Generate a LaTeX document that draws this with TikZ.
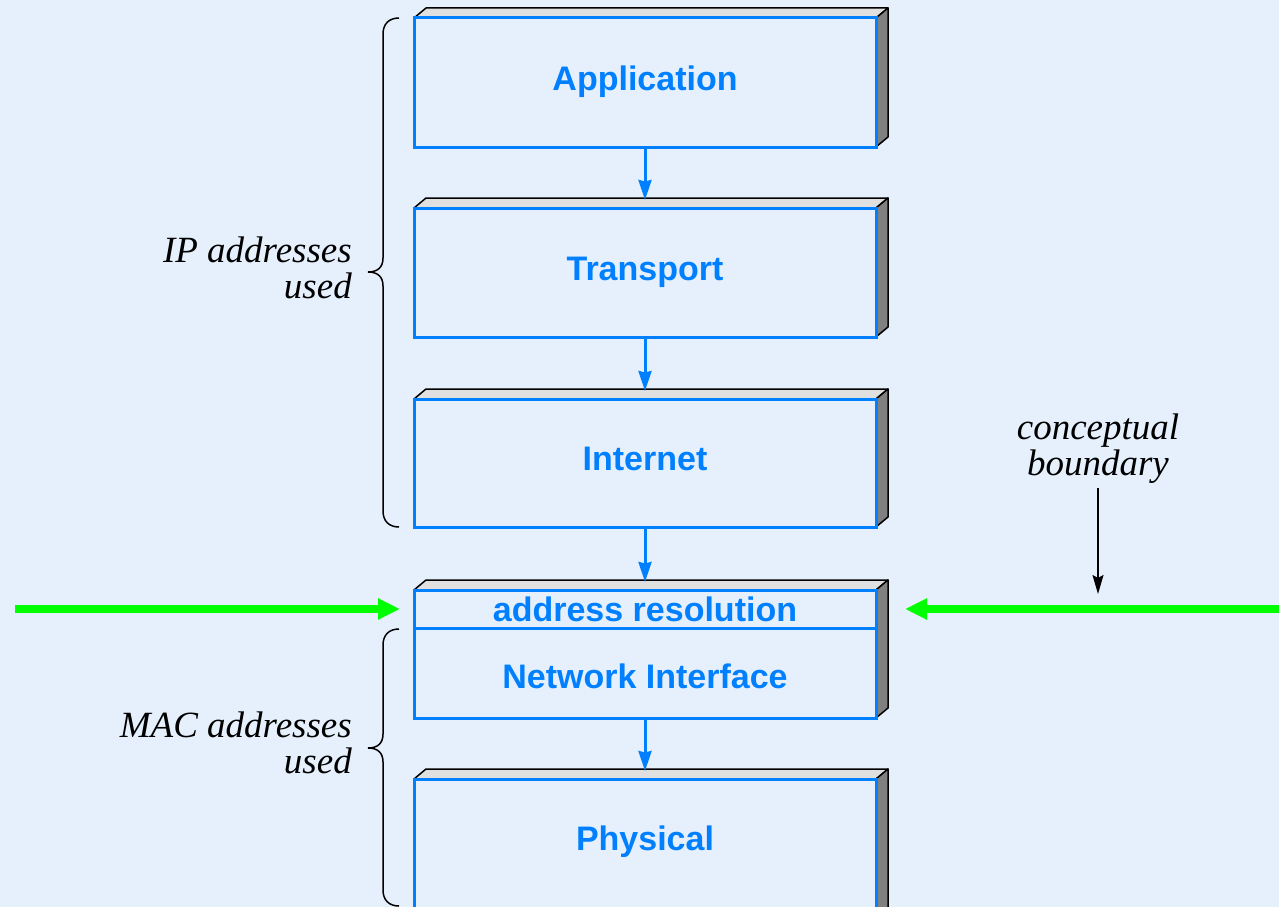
\documentclass[tikz,border=0pt]{standalone}
\usepackage{fontspec}
\setmainfont{Liberation Serif}
\setsansfont{Liberation Sans}
\usetikzlibrary{arrows.meta,backgrounds}
\definecolor{bg}{HTML}{E6F0FC}
\definecolor{lblue}{HTML}{0080FF}
\definecolor{lgreen}{HTML}{00FF00}
\definecolor{topgray}{HTML}{E0E0E0}
\definecolor{sidegray}{HTML}{808080}
\tikzset{
  layer/.style={draw=lblue, line width=3pt, fill=bg, minimum width=462pt,
    inner sep=0pt, outer sep=0pt, text=lblue,
    font=\sffamily\bfseries\fontsize{34}{40}\selectfont,
    text height=25pt, text depth=10pt},
  topface/.style={draw=black, fill=topgray, line width=1.5pt, line join=round},
  sideface/.style={draw=black, fill=sidegray, line width=1.5pt, line join=round},
  flow/.style={draw=lblue, line width=3pt, -{Stealth[length=20pt,width=13pt,inset=1.5pt]}},
  boundary/.style={draw=lgreen, line width=7.5pt, -{Triangle[length=22pt,width=20pt]}},
  pointer/.style={draw=black, line width=1.5pt, -{Stealth[length=19pt,width=11pt,inset=3pt]}},
  brace/.style={draw=black, line width=1.5pt},
  note/.style={inner sep=0pt, font=\itshape\fontsize{37}{36}\selectfont},
}
\begin{document}
\begin{tikzpicture}[x=1pt,y=-1pt]
\useasboundingbox (0,0) rectangle (1279,907);

% layers
\node[layer, minimum height=129pt] (app) at (645,82.5) {Application};
\node[layer, minimum height=129pt] (trans) at (645,272.5) {Transport};
\node[layer, minimum height=128pt] (inet) at (645,463) {Internet};
\node[layer, minimum height=38pt, text depth=0pt] (ar) at (645,609) {address resolution};
\node[layer, minimum height=90pt, text height=31pt, text depth=0pt] (ni) at (645,673) {Network Interface};
\node[layer, minimum height=160pt, text depth=43pt] (phys) at (645,859) {Physical};

\begin{pgfonlayer}{background}
  \fill[bg] (0,0) rectangle (1279,907);
  \foreach \a/\b in {app/app, trans/trans, inet/inet, ar/ni, phys/phys} {
    \draw[topface] (\a.north west) -- ([shift={(12,-10)}]\a.north west)
      -- ([shift={(12,-10)}]\a.north east) -- (\a.north east) -- cycle;
    \draw[sideface] (\a.north east) -- ([shift={(12,-10)}]\a.north east)
      -- ([shift={(12,-10)}]\b.south east) -- (\b.south east) -- cycle;
  }
\end{pgfonlayer}

% flow arrows
\draw[flow] (app.south) -- ([shift={(0,-8)}]trans.north);
\draw[flow] (trans.south) -- ([shift={(0,-8)}]inet.north);
\draw[flow] (inet.south) -- ([shift={(0,-8)}]ar.north);
\draw[flow] (ni.south) -- ([shift={(0,-8)}]phys.north);

% conceptual boundary
\coordinate (gl) at (15,609);
\coordinate (gr) at (1285,609);
\draw[boundary] (gl) -- ([shift={(-14,0)}]ar.west);
\draw[boundary] (gr) -- ([shift={(29,0)}]ar.east);

\node[note, align=center] (cb) at (1098,449) {conceptual\\boundary};
\coordinate (cbtip) at (1098,594);
\draw[pointer] ([shift={(0,4)}]cb.south) -- (cbtip);

% braces
\draw[brace] (399,18) .. controls (389,18) and (383,24) .. (383,34)
  -- (383,258) .. controls (383,267) and (378,272) .. (368,272)
  .. controls (378,272) and (383,277) .. (383,286)
  -- (383,511) .. controls (383,521) and (389,527) .. (399,527);
\draw[brace] (399,629) .. controls (389,629) and (383,635) .. (383,645)
  -- (383,734) .. controls (383,743) and (378,748) .. (368,748)
  .. controls (378,748) and (383,753) .. (383,762)
  -- (383,890) .. controls (383,900) and (389,906) .. (399,906);

\node[note, align=right, anchor=east] (ip) at (352,267.5) {IP addresses\\used};
\node[note, align=right, anchor=east] (mac) at (352,742.5) {MAC addresses\\used};
\end{tikzpicture}
\end{document}
